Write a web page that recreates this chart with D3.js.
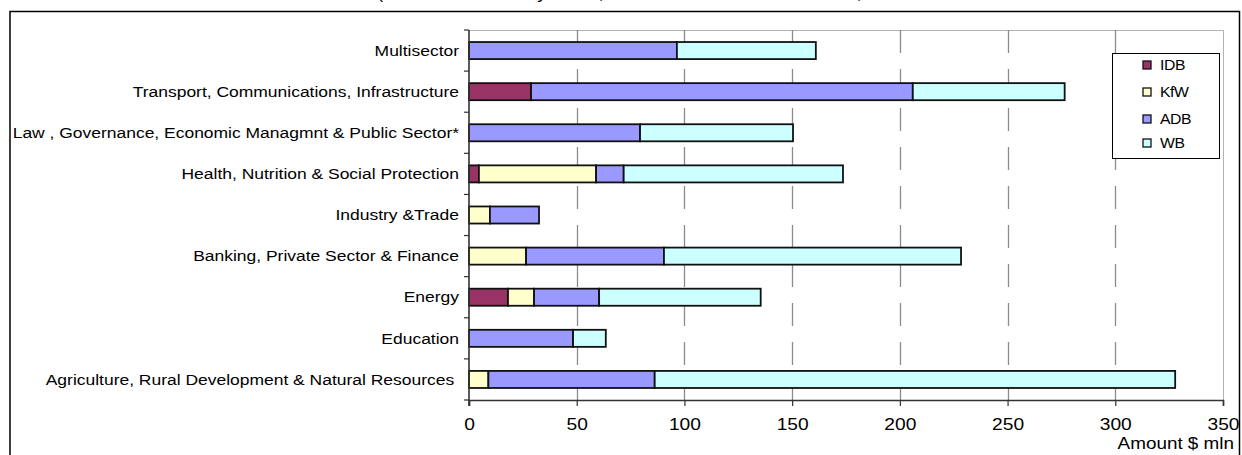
<!DOCTYPE html>
<html>
<head>
<meta charset="utf-8">
<script src="https://cdn.jsdelivr.net/npm/d3@7"></script>
<style>
  html, body { margin: 0; padding: 0; background: #fff; }
  svg { display: block; font-family: "Liberation Sans", Arial, sans-serif; }
</style>
</head>
<body>
<svg id="chart" width="1242" height="455"></svg>
<script>
// Sectors, listed top to bottom
const categories = [
  "Multisector",
  "Transport, Communications, Infrastructure",
  "Law , Governance, Economic Managmnt & Public Sector*",
  "Health, Nutrition & Social Protection",
  "Industry &Trade",
  "Banking, Private Sector & Finance",
  "Energy",
  "Education",
  "Agriculture, Rural Development & Natural Resources "
];

// Donors in stacking order
const seriesNames = ["IDB", "KfW", "ADB", "WB"];

// Amounts, $ mln, per sector (same order as categories)
const idb = [0, 28.8, 0, 4.6, 0, 0, 18.1, 0, 0];
const kfw = [0, 0, 0, 54.4, 9.7, 26.5, 12.1, 0, 9.0];
const adb = [96.5, 177.2, 79.4, 12.8, 22.8, 64.0, 30.2, 48.3, 77.2];
const wb  = [64.5, 70.5, 71.0, 101.8, 0, 137.9, 75.0, 15.2, 241.6];

const xTicks = [0, 50, 100, 150, 200, 250, 300, 350];
const axisTitle = "Amount $ mln";
const chartTitle = "(Sector allocation by donor, total amounts of active credits, million US dollars";

const colors = { IDB: "#993366", KfW: "#FFFFCC", ADB: "#9999FF", WB: "#CCFFFF" };

// Text in this chart is set slightly wide
const SX = 1.17;

const rows = categories.map((c, i) => ({
  category: c, IDB: idb[i], KfW: kfw[i], ADB: adb[i], WB: wb[i]
}));

const svg = d3.select("#chart");
const plot = { left: 469, right: 1223, top: 30, bottom: 400 };

const x = d3.scaleLinear().domain([0, 350]).range([plot.left, plot.right]);
const y = d3.scaleBand().domain(categories).range([plot.top, plot.bottom])
  .paddingInner(0.585).paddingOuter(0.2925);

function wideText(sel, tx, ty, sx) {
  return sel.attr("x", 0).attr("y", 0)
    .attr("transform", `translate(${tx},${ty}) scale(${sx},1)`);
}

// Outer frame
svg.append("rect")
  .attr("x", 10).attr("y", 11.5).attr("width", 1229.5).attr("height", 470)
  .attr("fill", "none").attr("stroke", "#000").attr("stroke-width", 1.5);

// Title line (sits above the frame, mostly outside the page)
wideText(svg.append("text"), 377, -0.8, SX)
  .attr("font-size", 16).attr("fill", "#000")
  .text(chartTitle);

// Plot area border (top and right)
svg.append("path")
  .attr("d", `M${plot.left},${plot.top + 0.5}H${plot.right + 0.5}V${plot.bottom}`)
  .attr("fill", "none").attr("stroke", "#b3b3b3").attr("stroke-width", 1);

// Dashed vertical gridlines
svg.append("g").selectAll("line")
  .data(xTicks.filter(v => v > 0 && v < 350))
  .join("line")
  .attr("x1", d => Math.round(x(d)) + 0.5).attr("x2", d => Math.round(x(d)) + 0.5)
  .attr("y1", plot.top).attr("y2", plot.bottom)
  .attr("stroke", "#8c8c8c").attr("stroke-width", 1.3)
  .attr("stroke-dasharray", "23,16");

// Stacked bars
const stack = d3.stack().keys(seriesNames);
const layers = stack(rows);

svg.append("g").selectAll("g")
  .data(layers)
  .join("g")
  .attr("fill", d => colors[d.key])
  .selectAll("rect")
  .data(d => d.filter(s => s[1] - s[0] > 0))
  .join("rect")
  .attr("x", d => x(d[0]))
  .attr("y", d => y(d.data.category))
  .attr("width", d => x(d[1]) - x(d[0]))
  .attr("height", y.bandwidth())
  .attr("stroke", "#111").attr("stroke-width", 1.8);

// Category axis
const yAxis = svg.append("g");
yAxis.append("line")
  .attr("x1", plot.left).attr("x2", plot.left)
  .attr("y1", plot.top).attr("y2", plot.bottom + 6)
  .attr("stroke", "#333").attr("stroke-width", 1.6);
yAxis.selectAll("line.tick")
  .data(d3.range(categories.length + 1))
  .join("line").attr("class", "tick")
  .attr("x1", plot.left - 5).attr("x2", plot.left)
  .attr("y1", i => plot.top + i * y.step()).attr("y2", i => plot.top + i * y.step())
  .attr("stroke", "#333").attr("stroke-width", 1.2);
yAxis.selectAll("text")
  .data(categories)
  .join("text")
  .each(function (d) {
    wideText(d3.select(this), 459, y(d) + y.bandwidth() / 2, 1.165);
  })
  .attr("dy", "0.35em")
  .attr("text-anchor", "end")
  .attr("font-size", 15)
  .attr("fill", "#000")
  .style("white-space", "pre")
  .text(d => d);

// Value axis
const xAxis = svg.append("g")
  .attr("transform", `translate(0,${plot.bottom})`)
  .call(d3.axisBottom(x).tickValues(xTicks).tickSize(6).tickPadding(13).tickFormat(d3.format("d")));
xAxis.select(".domain").attr("stroke", "#333").attr("stroke-width", 1.6);
xAxis.selectAll(".tick line").attr("stroke", "#333").attr("stroke-width", 1.2);
xAxis.selectAll(".tick text")
  .attr("font-size", 16).attr("fill", "#000")
  .attr("transform", "scale(1.2,1)")
  .attr("font-family", "Liberation Sans, Arial, sans-serif");

wideText(svg.append("text"), 1234, 449, 1.18)
  .attr("text-anchor", "end")
  .attr("font-size", 16).attr("fill", "#000")
  .text(axisTitle);

// Legend
const lg = svg.append("g").attr("transform", "translate(1112,53)");
lg.append("rect")
  .attr("x", 0.5).attr("y", 0.5).attr("width", 107).attr("height", 105)
  .attr("fill", "#fff").attr("stroke", "#000").attr("stroke-width", 1);
const rowY = [12, 39, 66, 90];
seriesNames.forEach((name, i) => {
  lg.append("rect")
    .attr("x", 31).attr("y", rowY[i] - 4).attr("width", 8).attr("height", 8)
    .attr("fill", colors[name]).attr("stroke", "#111").attr("stroke-width", 1.3);
  wideText(lg.append("text"), 48, rowY[i], 1.05)
    .attr("dy", "0.35em")
    .attr("font-size", 15).attr("fill", "#000")
    .attr("letter-spacing", -0.4)
    .text(name);
});
</script>
</body>
</html>
